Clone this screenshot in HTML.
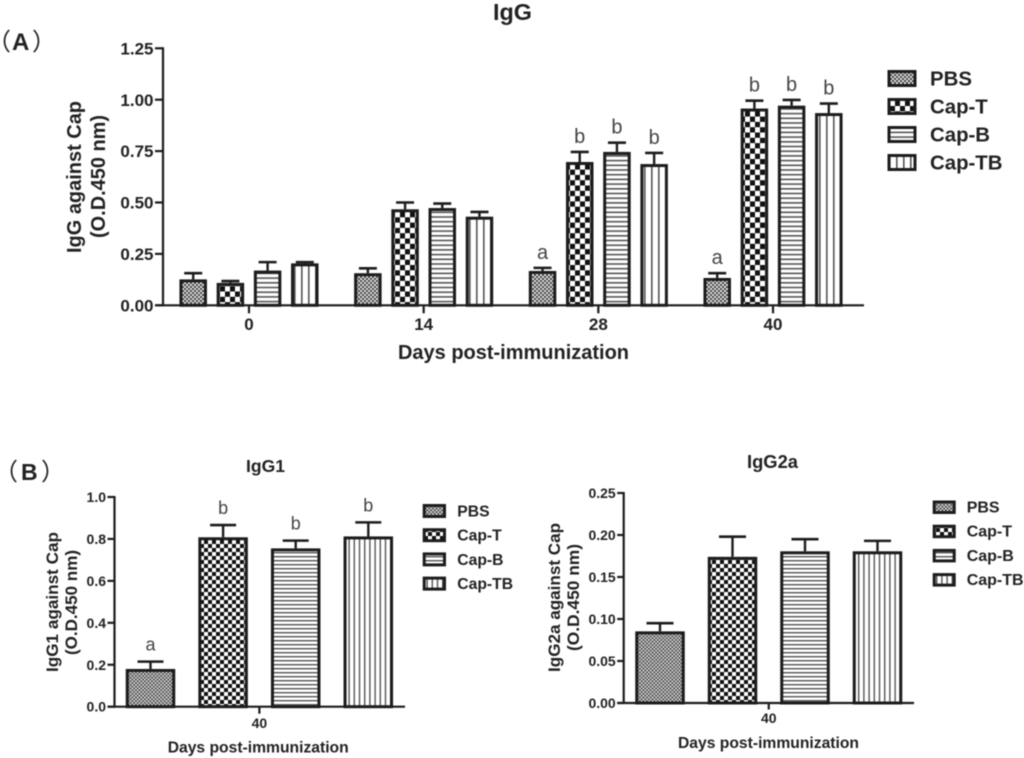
<!DOCTYPE html>
<html lang="en">
<head>
<meta charset="utf-8">
<title>IgG antibody responses against Cap</title>
<style>
html,body{margin:0;padding:0;background:#fff;width:1024px;height:758px;overflow:hidden}
svg{display:block;filter:blur(.45px)}
text{font-family:"Liberation Sans","Noto Sans CJK SC",sans-serif;fill:#222}
.b{font-weight:700}
</style>
</head>
<body>
<svg id="figure" xmlns="http://www.w3.org/2000/svg" width="1024" height="758" viewBox="0 0 1024 758">
<defs>
<pattern id="pbs-a" width="4" height="4" patternUnits="userSpaceOnUse"><rect width="4" height="4" fill="#e4e4e4"/><rect width="2" height="2" fill="#444"/><rect x="2" y="2" width="2" height="2" fill="#444"/></pattern>
<pattern id="capt-a" width="10" height="10.6" patternUnits="userSpaceOnUse"><rect width="10" height="10.6" fill="#fff"/><rect width="5" height="5.3" fill="#111"/><rect x="5" y="5.3" width="5" height="5.3" fill="#111"/></pattern>
<pattern id="capb-a" width="10" height="4.7" patternUnits="userSpaceOnUse"><rect width="10" height="4.7" fill="#fff"/><rect width="10" height="1.6" fill="#555"/></pattern>
<pattern id="captb-a" width="7" height="10" patternUnits="userSpaceOnUse"><rect width="7" height="10" fill="#fff"/><rect width="1.6" height="10" fill="#555"/></pattern>
<pattern id="pbs-b" width="3.6" height="3.6" patternUnits="userSpaceOnUse"><rect width="3.6" height="3.6" fill="#ddd"/><rect width="1.8" height="1.8" fill="#444"/><rect x="1.8" y="1.8" width="1.8" height="1.8" fill="#444"/></pattern>
<pattern id="capt-b" width="8" height="8" patternUnits="userSpaceOnUse"><rect width="8" height="8" fill="#fff"/><rect width="4" height="4" fill="#111"/><rect x="4" y="4" width="4" height="4" fill="#111"/></pattern>
<pattern id="capb-b" width="10" height="4" patternUnits="userSpaceOnUse"><rect width="10" height="4" fill="#fff"/><rect width="10" height="1.4" fill="#555"/></pattern>
<pattern id="captb-b" width="5.2" height="10" patternUnits="userSpaceOnUse"><rect width="5.2" height="10" fill="#fff"/><rect width="1.4" height="10" fill="#555"/></pattern>
</defs>

<rect width="1024" height="758" fill="#fff"/>

<text x="-13" y="50" font-size="24">（</text>
<text class="b" x="12" y="50" font-size="24">A</text>
<text x="32" y="50" font-size="24">）</text>
<text x="-6" y="480" font-size="24">（</text>
<text class="b" x="21" y="480" font-size="23">B</text>
<text x="41" y="480" font-size="24">）</text>

<text class="b" x="493" y="20" font-size="23" textLength="39" lengthAdjust="spacingAndGlyphs">IgG</text>
<text class="b" transform="translate(81 177) rotate(-90)" text-anchor="middle" font-size="20" textLength="152" lengthAdjust="spacingAndGlyphs">IgG against Cap</text>
<text class="b" transform="translate(105 176.5) rotate(-90)" text-anchor="middle" font-size="20" textLength="123" lengthAdjust="spacingAndGlyphs">(O.D.450 nm)</text>
<text class="b" x="398" y="359" font-size="20" textLength="231" lengthAdjust="spacingAndGlyphs">Days post-immunization</text>

<text class="b" x="246" y="472" font-size="17.5" textLength="39" lengthAdjust="spacingAndGlyphs">IgG1</text>
<text class="b" transform="translate(58 602) rotate(-90)" text-anchor="middle" font-size="17" textLength="140" lengthAdjust="spacingAndGlyphs">IgG1 against Cap</text>
<text class="b" transform="translate(77 602.5) rotate(-90)" text-anchor="middle" font-size="17" textLength="105" lengthAdjust="spacingAndGlyphs">(O.D.450 nm)</text>
<text class="b" x="167.7" y="752.5" font-size="15.7" textLength="181" lengthAdjust="spacingAndGlyphs">Days post-immunization</text>

<text class="b" x="747" y="468" font-size="18" textLength="51" lengthAdjust="spacingAndGlyphs">IgG2a</text>
<text class="b" transform="translate(560 597.5) rotate(-90)" text-anchor="middle" font-size="17" textLength="149" lengthAdjust="spacingAndGlyphs">IgG2a against Cap</text>
<text class="b" transform="translate(579 597.5) rotate(-90)" text-anchor="middle" font-size="17" textLength="107" lengthAdjust="spacingAndGlyphs">(O.D.450 nm)</text>
<text class="b" x="678" y="748" font-size="15.5" textLength="181" lengthAdjust="spacingAndGlyphs">Days post-immunization</text>
</svg>

<script>
const seriesNames = ['PBS', 'Cap-T', 'Cap-B', 'Cap-TB'];

const iggCategories = ['0', '14', '28', '40'];
const iggTicks = ['0.00', '0.25', '0.50', '0.75', '1.00', '1.25'];
const iggPbs = [0.126, 0.156, 0.167, 0.133];
const iggCapT = [0.109, 0.467, 0.697, 0.957];
const iggCapB = [0.169, 0.473, 0.746, 0.971];
const iggCapTB = [0.204, 0.431, 0.687, 0.935];
const iggPbsErr = [0.156, 0.180, 0.182, 0.156];
const iggCapTErr = [0.118, 0.500, 0.746, 0.995];
const iggCapBErr = [0.210, 0.495, 0.791, 0.999];
const iggCapTBErr = [0.210, 0.454, 0.741, 0.981];
const iggPbsSig = ['', '', 'a', 'a'];
const iggCapTSig = ['', '', 'b', 'b'];
const iggCapBSig = ['', '', 'b', 'b'];
const iggCapTBSig = ['', '', 'b', 'b'];

const igg1Categories = ['40'];
const igg1Ticks = ['0.0', '0.2', '0.4', '0.6', '0.8', '1.0'];
const igg1Values = [0.18, 0.808, 0.755, 0.812];
const igg1ErrTops = [0.215, 0.866, 0.792, 0.879];
const igg1Sig = ['a', 'b', 'b', 'b'];

const igg2aCategories = ['40'];
const igg2aTicks = ['0.00', '0.05', '0.10', '0.15', '0.20', '0.25'];
const igg2aValues = [0.0853, 0.174, 0.1806, 0.1806];
const igg2aErrTops = [0.095, 0.198, 0.195, 0.193];
const igg2aSig = ['', '', '', ''];

const svg = document.getElementById('figure');
const NS = 'http://www.w3.org/2000/svg';
const INK = '#1c1c1c';

function make(tag, attrs, text) {
  const node = document.createElementNS(NS, tag);
  for (const key in attrs) node.setAttribute(key, attrs[key]);
  if (text !== undefined) node.textContent = text;
  svg.appendChild(node);
  return node;
}

function drawChart(cfg) {
  const tickMax = parseFloat(cfg.ticks[cfg.ticks.length - 1]);
  const y = v => cfg.y0 - (v / tickMax) * (cfg.y0 - cfg.yTop);
  const x = (g, s) => cfg.x0 + g * cfg.groupStep + (s - 1.5) * cfg.barStep;

  cfg.values.forEach((series, s) => {
    series.forEach((v, g) => {
      const bar = make('rect', {
        x: x(g, s) - cfg.barW / 2 + 1.5,
        y: y(v) + 1.5,
        width: cfg.barW - 3,
        height: cfg.y0 - y(v) - 1.5,
        fill: 'url(#' + cfg.patterns[s] + ')',
        stroke: INK,
        'stroke-width': 3
      });
      
      

      const top = cfg.errs[s][g];
      const stem = make('line', { x1: x(g, s), x2: x(g, s), y1: y(v), y2: y(top), stroke: INK, 'stroke-width': 2.4 });
      
      
      const cap = make('line', { x1: x(g, s) - cfg.capW / 2, x2: x(g, s) + cfg.capW / 2, y1: y(top), y2: y(top), stroke: INK, 'stroke-width': 2.6 });
      
      

      const letter = cfg.sig[s][g];
      if (letter) {
        const sig = make('text', { x: x(g, s), y: y(top) - cfg.sigGap, 'text-anchor': 'middle', 'font-size': cfg.sigSize, style: 'fill:#444' }, letter);
        
        
      }
    });
  });

  const yAxis = make('line', { x1: cfg.axisX, x2: cfg.axisX, y1: cfg.yTop - 1, y2: cfg.y0 + 1, stroke: INK, 'stroke-width': 2.2 });
  
  
  const xAxis = make('line', { x1: cfg.axisX - cfg.tickLen, x2: cfg.xEnd, y1: cfg.y0, y2: cfg.y0, stroke: INK, 'stroke-width': 2.2 });
  
  

  cfg.ticks.forEach(label => {
    const v = parseFloat(label);
    const tick = make('line', { x1: cfg.axisX - cfg.tickLen, x2: cfg.axisX, y1: y(v), y2: y(v), stroke: INK, 'stroke-width': 2.2 });
    
    
    const t = make('text', { class: 'b', x: cfg.axisX - cfg.tickLen - 1.5, y: y(v) + cfg.tickSize * 0.36, 'text-anchor': 'end', 'font-size': cfg.tickSize }, label);
    
    
  });

  cfg.categories.forEach((label, g) => {
    const cx = cfg.x0 + g * cfg.groupStep;
    const tick = make('line', { x1: cx, x2: cx, y1: cfg.y0, y2: cfg.y0 + cfg.tickLen, stroke: INK, 'stroke-width': 2.2 });
    
    
    const t = make('text', { class: 'b', x: cx, y: cfg.xLabelY, 'text-anchor': 'middle', 'font-size': cfg.tickSize }, label);
    
    
  });

  seriesNames.forEach((name, s) => {
    const top = cfg.legY + s * cfg.legStep;
    const swatch = make('rect', {
      x: cfg.legX + 1.5, y: top + 1.5, width: cfg.legW - 3, height: cfg.legH - 3,
      fill: 'url(#' + cfg.patterns[s] + ')', stroke: INK, 'stroke-width': 3
    });
    
    
    const label = make('text', {
      class: 'b', x: cfg.legTextX, y: top + cfg.legH - 1.5, 'font-size': cfg.legSize
    }, name);
    
    
  });
}

drawChart({
  id: 'igg', categories: iggCategories, ticks: iggTicks,
  values: [iggPbs, iggCapT, iggCapB, iggCapTB],
  errs: [iggPbsErr, iggCapTErr, iggCapBErr, iggCapTBErr],
  sig: [iggPbsSig, iggCapTSig, iggCapBSig, iggCapTBSig],
  patterns: ['pbs-a', 'capt-a', 'capb-a', 'captb-a'],
  x0: 249, groupStep: 174.67, barStep: 37.2, barW: 27.5, capW: 18,
  y0: 305.3, yTop: 48.3, axisX: 163, xEnd: 864, tickLen: 8, tickSize: 17,
  xLabelY: 330, sigGap: 9, sigSize: 20,
  legX: 887.5, legY: 70, legStep: 28, legW: 29, legH: 17, legTextX: 930, legSize: 20.4
});

drawChart({
  id: 'igg1', categories: igg1Categories, ticks: igg1Ticks,
  values: igg1Values.map(v => [v]), errs: igg1ErrTops.map(v => [v]), sig: igg1Sig.map(v => [v]),
  patterns: ['pbs-b', 'capt-b', 'capb-b', 'captb-b'],
  x0: 259.4, groupStep: 0, barStep: 72.6, barW: 49.5, capW: 26,
  y0: 706.7, yTop: 497, axisX: 114.5, xEnd: 405, tickLen: 7, tickSize: 14,
  xLabelY: 728, sigGap: 11, sigSize: 18,
  legX: 422.7, legY: 504, legStep: 24.2, legW: 23.3, legH: 14, legTextX: 457.3, legSize: 15.7
});

drawChart({
  id: 'igg2a', categories: igg2aCategories, ticks: igg2aTicks,
  values: igg2aValues.map(v => [v]), errs: igg2aErrTops.map(v => [v]), sig: igg2aSig.map(v => [v]),
  patterns: ['pbs-b', 'capt-b', 'capb-b', 'captb-b'],
  x0: 768.75, groupStep: 0, barStep: 72.5, barW: 49.5, capW: 27,
  y0: 703, yTop: 493, axisX: 623.7, xEnd: 914, tickLen: 6.5, tickSize: 14,
  xLabelY: 723, sigGap: 11, sigSize: 18,
  legX: 932.7, legY: 500.5, legStep: 24.2, legW: 23, legH: 13.5, legTextX: 966.7, legSize: 16
});
</script>
</body>
</html>
